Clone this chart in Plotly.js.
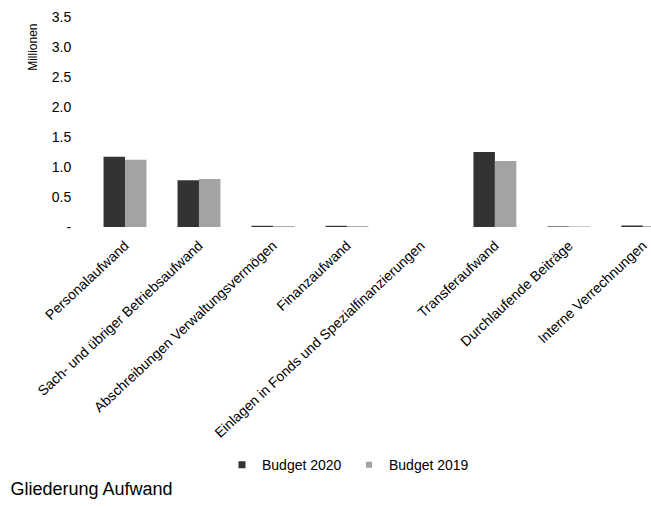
<!DOCTYPE html>
<html>
<head>
<meta charset="utf-8">
<script src="https://cdn.plot.ly/plotly-3.0.1.min.js"></script>
<style>html,body{margin:0;padding:0;background:#fff;}#chart{width:651px;height:507px;}</style>
</head>
<body>
<div id="chart"></div>
<script>
const categories = [
  "Personalaufwand",
  "Sach- und übriger Betriebsaufwand",
  "Abschreibungen Verwaltungsvermögen",
  "Finanzaufwand",
  "Einlagen in Fonds und Spezialfinanzierungen",
  "Transferaufwand",
  "Durchlaufende Beiträge",
  "Interne Verrechnungen"
];
const budget2020 = [1.17, 0.78, 0.02, 0.02, 0, 1.25, 0.01, 0.025];
const budget2019 = [1.12, 0.80, 0.015, 0.015, 0, 1.10, 0.01, 0.015];
const seriesNames = ["Budget 2020", "Budget 2019"];
const seriesColors = ["#333333", "#a3a3a3"];
const yTickVals = [0, 0.5, 1.0, 1.5, 2.0, 2.5, 3.0, 3.5];
const yTickText = ["-", "0.5", "1.0", "1.5", "2.0", "2.5", "3.0", "3.5"];

const font = {family: "Liberation Sans, Arial, sans-serif", color: "#000"};

const traces = [
  {type: "bar", name: seriesNames[0], x: categories, y: budget2020, marker: {color: seriesColors[0]}, showlegend: false},
  {type: "bar", name: seriesNames[1], x: categories, y: budget2019, marker: {color: seriesColors[1]}, showlegend: false},
  {type: "scatter", mode: "markers", name: seriesNames[0], x: [null], y: [null],
   marker: {symbol: "square", size: 7, color: seriesColors[0]}},
  {type: "scatter", mode: "markers", name: seriesNames[1], x: [null], y: [null],
   marker: {symbol: "square", size: 6, color: seriesColors[1]}}
];

const layout = {
  width: 651, height: 507,
  margin: {l: 88, r: 0, t: 17, b: 280},
  paper_bgcolor: "#fff", plot_bgcolor: "#fff",
  font: Object.assign({size: 14}, font),
  barmode: "group", bargap: 0.42, bargroupgap: 0,
  showlegend: true,
  legend: {orientation: "h", x: 0.238, xanchor: "left", y: -1.134, yanchor: "middle",
           font: Object.assign({size: 14}, font), itemwidth: 30, entrywidth: 82,
           entrywidthmode: "pixels", traceorder: "normal"},
  title: {text: "Gliederung Aufwand", x: 0.016, xanchor: "left", xref: "container",
          y: 0.036, yanchor: "middle", yref: "container", font: Object.assign({size: 18}, font)},
  xaxis: {type: "category", range: [-0.5, 7.11], tickangle: -43, showgrid: false, zeroline: false,
          showline: false, ticks: "outside", ticklen: 4, tickcolor: "rgba(0,0,0,0)",
          tickfont: Object.assign({size: 14}, font), fixedrange: true},
  yaxis: {range: [0, 3.5], tickvals: yTickVals, ticktext: yTickText, showgrid: false, zeroline: false,
          showline: false, ticks: "outside", ticklen: 13, tickcolor: "rgba(0,0,0,0)",
          tickfont: Object.assign({size: 14}, font), fixedrange: true},
  annotations: [
    {text: "Millionen", xref: "paper", yref: "paper", x: -0.098, y: 0.857, textangle: -90,
     showarrow: false, font: Object.assign({size: 12}, font), xanchor: "center", yanchor: "middle"}
  ]
};

Plotly.newPlot("chart", traces, layout, {displayModeBar: false, staticPlot: true});
</script>
</body>
</html>
